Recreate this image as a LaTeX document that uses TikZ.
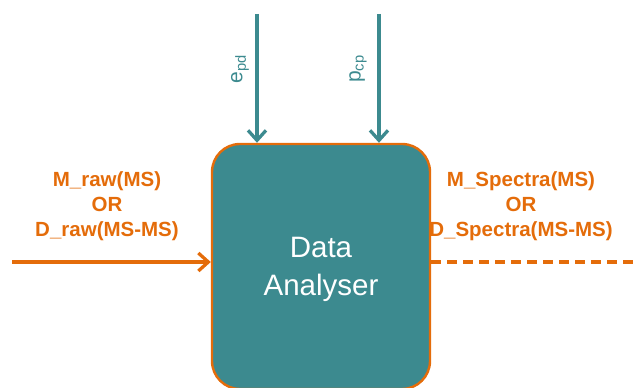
\documentclass[tikz,border=0pt]{standalone}
\usepackage{fontspec}
\setmainfont{Liberation Sans}
\usetikzlibrary{arrows.meta}
\definecolor{tealbox}{RGB}{60,138,143}
\definecolor{orangeline}{RGB}{228,108,10}
\begin{document}
\begin{tikzpicture}[x=1pt,y=1pt,
  flowlabel/.style={text=orangeline, font=\fontsize{20.5}{25}\selectfont\bfseries, align=center, inner sep=0pt},
  paramlabel/.style={text=tealbox, font=\fontsize{21}{25}\selectfont, rotate=90, inner sep=0pt},
  inarrow/.style={line width=3.3pt, -{Straight Barb[length=10pt,width=18pt,line width=3.3pt]}},
]
\useasboundingbox (0,0) rectangle (637,388);

% central processing block
\node[draw=orangeline, line width=2.4pt, fill=tealbox, rounded corners=28pt,
      minimum width=218pt, minimum height=245pt, inner sep=0pt,
      text=white, align=center, font=\fontsize{29.5}{38}\selectfont]
  (box) at (321,121.5) {};
\node[text=white, align=center, font=\fontsize{29.5}{38}\selectfont, inner sep=0pt]
  (boxtext) at (321,119) {Data\\Analyser};

% parameter inputs from above
\coordinate (epdtop) at (257,374);
\coordinate (pcptop) at (379,374);
\draw[inarrow, draw=tealbox] (epdtop) -- (epdtop |- box.north);
\draw[inarrow, draw=tealbox] (pcptop) -- (pcptop |- box.north);
\node[paramlabel] (epd) at (240,319) {e\textsubscript{pd}};
\node[paramlabel] (pcp) at (358,319) {p\textsubscript{cp}};

% raw data input
\coordinate (rawin) at (12,126);
\draw[inarrow, draw=orangeline] (rawin) -- (rawin -| box.west);
\node[flowlabel] (rawlbl) at (107,182) {M\_raw(MS)\\OR\\D\_raw(MS-MS)};

% spectra output
\coordinate (specout) at (637,126);
\draw[orangeline, line width=3.3pt, dash pattern=on 10pt off 6pt] (specout -| box.east) -- (specout);
\node[flowlabel] (speclbl) at (521,182) {M\_Spectra(MS)\\OR\\D\_Spectra(MS-MS)};
\end{tikzpicture}
\end{document}
